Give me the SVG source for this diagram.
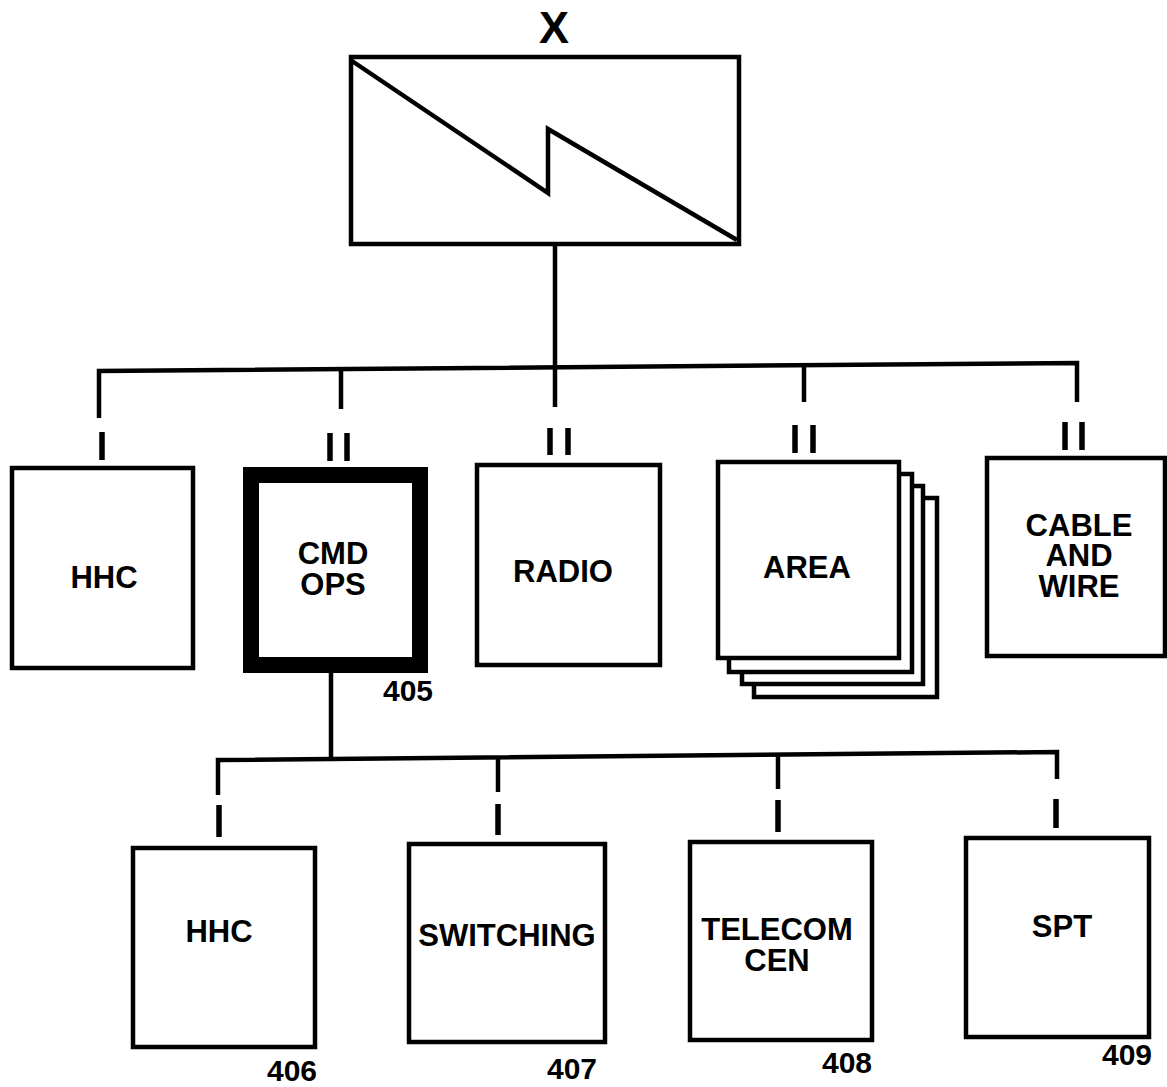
<svg xmlns="http://www.w3.org/2000/svg" width="1167" height="1087" viewBox="0 0 1167 1087">
<style>
.box{fill:#fff;stroke:#000;stroke-width:4.5}
.thick{fill:#fff;stroke:#000;stroke-width:16}
.ln{fill:none;stroke:#000;stroke-width:4.5;stroke-linejoin:miter}
.mk{stroke:#000;stroke-width:5.5}
.lbl{font-family:"Liberation Sans",Arial,sans-serif;font-weight:bold;font-size:31px;text-anchor:middle;fill:#000}
.num{font-family:"Liberation Sans",Arial,sans-serif;font-weight:bold;font-size:30px;text-anchor:middle;fill:#000}
</style>
<rect width="1167" height="1087" fill="#fff"/>
<g id="connectors">
  <line class="ln" x1="555" y1="245" x2="555" y2="367"/>
  <polyline class="ln" points="99,418 99,371 1077,363 1077,402"/>
  <line class="ln" x1="341" y1="370" x2="341" y2="409"/>
  <line class="ln" x1="555" y1="366" x2="555" y2="407"/>
  <line class="ln" x1="804" y1="364" x2="804" y2="402"/>
  <line class="mk" x1="102" y1="432" x2="102" y2="460"/>
  <line class="mk" x1="330" y1="433" x2="330" y2="461"/>
  <line class="mk" x1="347" y1="433" x2="347" y2="461"/>
  <line class="mk" x1="550" y1="428" x2="550" y2="455"/>
  <line class="mk" x1="568" y1="428" x2="568" y2="455"/>
  <line class="mk" x1="795" y1="425" x2="795" y2="453"/>
  <line class="mk" x1="813" y1="425" x2="813" y2="453"/>
  <line class="mk" x1="1065" y1="422" x2="1065" y2="450"/>
  <line class="mk" x1="1082" y1="422" x2="1082" y2="450"/>
  <line class="ln" x1="331" y1="673" x2="331" y2="760"/>
  <polyline class="ln" points="218,795 218,760 1057,752 1057,779"/>
  <line class="ln" x1="498" y1="758" x2="498" y2="792"/>
  <line class="ln" x1="778" y1="755" x2="778" y2="789"/>
  <line class="mk" x1="219" y1="805" x2="219" y2="837"/>
  <line class="mk" x1="498" y1="804" x2="498" y2="835"/>
  <line class="mk" x1="778" y1="800" x2="778" y2="832"/>
  <line class="mk" x1="1056" y1="799" x2="1056" y2="828"/>
</g>
<g id="top">
  <text x="554" y="43" class="lbl" style="font-size:45px">X</text>
  <rect class="box" x="351" y="57" width="388" height="187"/>
  <polyline class="ln" points="352,61 548,193 548,129 737,240"/>
</g>
<g id="hhc1">
  <rect class="box" x="12" y="468" width="181" height="200"/>
  <text x="104" y="588" class="lbl">HHC</text>
</g>
<g id="cmdops">
  <rect class="thick" x="251" y="475" width="169" height="190"/>
  <text x="333" y="564" class="lbl">CMD</text>
  <text x="333" y="595" class="lbl">OPS</text>
  <text x="408" y="701" class="num">405</text>
</g>
<g id="radio">
  <rect class="box" x="477" y="465" width="183" height="200"/>
  <text x="563" y="582" class="lbl">RADIO</text>
</g>
<g id="area">
  <rect class="box" x="754" y="498" width="183" height="199"/>
  <rect class="box" x="742" y="486" width="181" height="198"/>
  <rect class="box" x="729" y="474" width="183" height="198"/>
  <rect class="box" x="718" y="462" width="181" height="196"/>
  <text x="807" y="578" class="lbl">AREA</text>
</g>
<g id="cable">
  <rect class="box" x="987" y="458" width="178" height="198"/>
  <text x="1079" y="536" class="lbl">CABLE</text>
  <text x="1079" y="566" class="lbl">AND</text>
  <text x="1079" y="597" class="lbl">WIRE</text>
</g>
<g id="hhc2">
  <rect class="box" x="133" y="848" width="182" height="199"/>
  <text x="219" y="942" class="lbl">HHC</text>
  <text x="292" y="1081" class="num">406</text>
</g>
<g id="switching">
  <rect class="box" x="409" y="844" width="196" height="198"/>
  <text x="507" y="946" class="lbl">SWITCHING</text>
  <text x="572" y="1079" class="num">407</text>
</g>
<g id="telecom">
  <rect class="box" x="690" y="842" width="182" height="198"/>
  <text x="777" y="940" class="lbl">TELECOM</text>
  <text x="777" y="971" class="lbl">CEN</text>
  <text x="847" y="1073" class="num">408</text>
</g>
<g id="spt">
  <rect class="box" x="966" y="838" width="183" height="199"/>
  <text x="1062" y="937" class="lbl">SPT</text>
  <text x="1127" y="1065" class="num">409</text>
</g>
</svg>
